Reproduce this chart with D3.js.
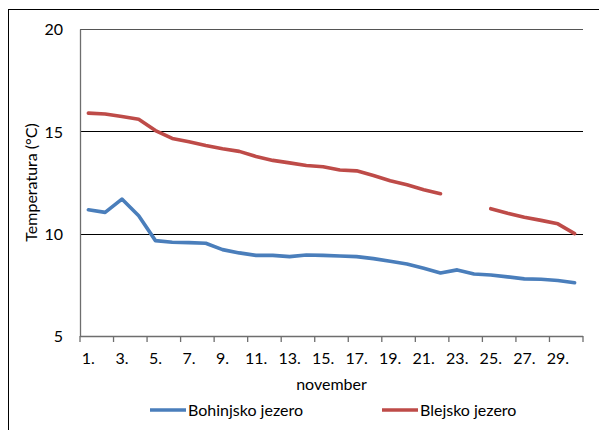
<!DOCTYPE html>
<html>
<head>
<meta charset="utf-8">
<script src="https://cdn.jsdelivr.net/npm/d3@7"></script>
<style>
  html, body { margin: 0; padding: 0; background: #fff; }
  svg { display: block; }
  text { font-family: Lato, "Open Sans", sans-serif; fill: #000; }
</style>
</head>
<body>
<script>
// November daily water temperatures (°C) of two Slovenian lakes
const days = d3.range(1, 31);
const dayLabels = days.map(d => d + ".");
const bohinj = [11.17, 11.04, 11.69, 10.88, 9.66, 9.58, 9.56, 9.53, 9.22, 9.06,
                8.94, 8.94, 8.88, 8.96, 8.94, 8.91, 8.88, 8.78, 8.65, 8.52,
                8.31, 8.08, 8.23, 8.03, 7.98, 7.89, 7.79, 7.77, 7.71, 7.60];
const bled = [15.89, 15.85, 15.72, 15.59, 15.04, 14.65, 14.49, 14.31, 14.15, 14.02,
              13.77, 13.58, 13.46, 13.33, 13.27, 13.11, 13.07, 12.84, 12.59, 12.39,
              12.15, 11.95, null, null, 11.22, 11.00, 10.80, 10.65, 10.48, 10.00];
const yTicks = [5, 10, 15, 20];
const seriesNames = ["Bohinjsko jezero", "Blejsko jezero"];
const seriesColors = ["#4A7EBB", "#BE4B48"];
const xTitle = "november";
const yTitle = "Temperatura (°C)";

const W = 599, H = 430;
const plot = { left: 80, top: 29, right: 583, bottom: 336 };
const FS = "16px";

const svg = d3.select("body").append("svg").attr("width", W).attr("height", H);

// chart frame (extends past the right and bottom window edges)
svg.append("rect")
  .attr("x", 8.5).attr("y", 9.5).attr("width", 700).attr("height", 600)
  .attr("fill", "none").attr("stroke", "#000").attr("stroke-width", 1);

const x = d3.scaleBand().domain(days).range([plot.left, plot.right]);
const y = d3.scaleLinear().domain([5, 20]).range([plot.bottom, plot.top]);

// horizontal gridlines
svg.append("g").selectAll("line").data(yTicks.filter(v => v > 5)).join("line")
  .attr("x1", plot.left).attr("x2", plot.right)
  .attr("y1", d => Math.round(y(d)) + 0.5).attr("y2", d => Math.round(y(d)) + 0.5)
  .attr("stroke", d => d === 20 ? "#555" : "#000").attr("stroke-width", 1);

// y axis
const yAxis = d3.axisLeft(y).tickValues(yTicks).tickSize(0).tickPadding(17);
const gy = svg.append("g").attr("transform", `translate(${plot.left},0)`).call(yAxis);
gy.select(".domain").attr("stroke", "#6e6e6e").attr("stroke-width", 1.3);
gy.selectAll("text").style("font-size", FS).attr("dy", "0.36em");

// x axis: ticks every second category boundary, labels on odd days
const gx = svg.append("g").attr("transform", `translate(0,${plot.bottom})`);
gx.append("line")
  .attr("x1", plot.left).attr("x2", plot.right).attr("y1", 0.5).attr("y2", 0.5)
  .attr("stroke", "#6e6e6e").attr("stroke-width", 1.3);
const boundaries = d3.range(0, days.length + 1, 2).map(i =>
  i < days.length ? x(days[i]) : x(days[days.length - 1]) + x.bandwidth());
gx.selectAll("line.tick").data(boundaries).join("line").attr("class", "tick")
  .attr("x1", d => d).attr("x2", d => d).attr("y1", 0).attr("y2", 6)
  .attr("stroke", "#6e6e6e").attr("stroke-width", 1.3);
gx.selectAll("text").data(days.filter((d, i) => i % 2 === 0)).join("text")
  .attr("x", d => x(d) + x.bandwidth() / 2)
  .attr("y", 28)
  .attr("text-anchor", "middle")
  .style("font-size", FS)
  .text(d => dayLabels[d - 1]);

// axis titles
svg.append("text")
  .attr("x", (plot.left + plot.right) / 2).attr("y", 390)
  .attr("text-anchor", "middle").style("font-size", FS).text(xTitle);
svg.append("text")
  .attr("transform", `translate(37,${(plot.top + plot.bottom) / 2}) rotate(-90)`)
  .attr("text-anchor", "middle").style("font-size", FS).text(yTitle);

// series lines
const line = d3.line()
  .defined(d => d.v != null)
  .x(d => x(d.day) + x.bandwidth() / 2)
  .y(d => y(d.v));
[bohinj, bled].forEach((vals, i) => {
  svg.append("path")
    .datum(days.map((d, j) => ({ day: d, v: vals[j] })))
    .attr("d", line)
    .attr("fill", "none")
    .attr("stroke", seriesColors[i])
    .attr("stroke-width", 3.6)
    .attr("stroke-linejoin", "round")
    .attr("stroke-linecap", "round");
});

// legend
const legendPos = [150, 382];
seriesNames.forEach((name, i) => {
  const g = svg.append("g").attr("transform", `translate(${legendPos[i]},410)`);
  g.append("line").attr("x1", 0).attr("x2", 36).attr("y1", 0).attr("y2", 0)
    .attr("stroke", seriesColors[i]).attr("stroke-width", 3.6);
  g.append("text").attr("x", 38).attr("y", 5.5).style("font-size", FS).text(name);
});
</script>
</body>
</html>
